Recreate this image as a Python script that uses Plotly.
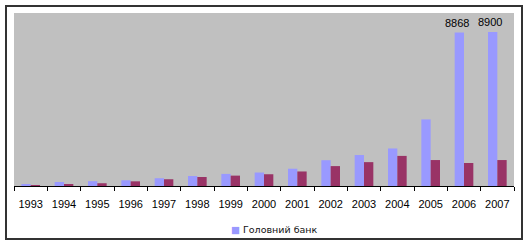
import plotly.graph_objects as go

years = ["1993", "1994", "1995", "1996", "1997", "1998", "1999", "2000",
         "2001", "2002", "2003", "2004", "2005", "2006", "2007"]
head_bank = [60, 230, 280, 330, 450, 580, 700, 780, 1000, 1490, 1790, 2170, 3850, 8868, 8900]
second_series = [10, 60, 160, 270, 390, 520, 600, 680, 840, 1150, 1380, 1740, 1500, 1330, 1500]
labelled_years = ["2006", "2007"]
legend_name = "Головний банк"

BLUE = "#9999FF"
RED = "#993366"

fig = go.Figure()
fig.add_trace(go.Bar(x=years, y=head_bank, name=legend_name,
                     marker=dict(color=BLUE, line=dict(width=0)), showlegend=False))
fig.add_trace(go.Bar(x=years, y=second_series, name="",
                     marker=dict(color=RED, line=dict(width=0)), showlegend=False))

for yr in labelled_years:
    i = years.index(yr)
    v = head_bank[i]
    fig.add_annotation(x=i, y=v, xref="x", yref="y", text=f"{v}",
                       showarrow=False, yanchor="bottom", xshift=-7, yshift=2,
                       font=dict(family="Liberation Sans", size=11, color="black"))

# legend (single entry) as text
fig.add_annotation(x=0.52, y=-0.2486, xref="paper", yref="paper",
                   text=f"<span style='color:{BLUE}'>■</span> {legend_name}",
                   showarrow=False, xanchor="center", yanchor="middle",
                   font=dict(family="DejaVu Sans", size=9.5, color="#111111"))

# outer chart border
fig.add_shape(type="rect", xref="paper", yref="paper",
              x0=-0.016, x1=1.016, y0=-0.3064, y1=1.0405,
              line=dict(color="#333333", width=2), fillcolor="rgba(0,0,0,0)",
              layer="below")

fig.update_layout(
    width=527, height=245,
    margin=dict(l=14, r=13, t=13, b=59),
    paper_bgcolor="white",
    plot_bgcolor="#C0C0C0",
    barmode="group",
    bargap=0.44,
    bargroupgap=0,
    showlegend=False,
    font=dict(family="Liberation Sans", size=11, color="black"),
)
fig.update_xaxes(
    type="category",
    range=[-0.5, len(years) - 0.5],
    showline=True, linecolor="black", linewidth=1,
    ticks="outside", tickson="boundaries", ticklen=4, tickcolor="black", tickwidth=1,
    tickfont=dict(family="Liberation Sans", size=11, color="black"),
    ticklabelstandoff=8, tickangle=0,
    showgrid=False, zeroline=False,
)
fig.update_yaxes(range=[0, 10000], visible=False, showgrid=False, zeroline=False)

fig.write_html("out.html")
